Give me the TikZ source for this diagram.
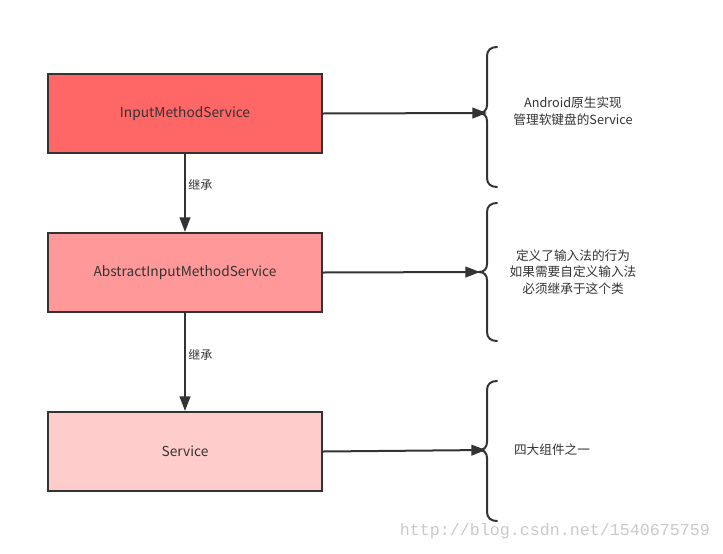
\documentclass[tikz,border=0pt]{standalone}
\usepackage{fontspec}
\setmainfont{Noto Sans CJK SC}
\newfontfamily\wmfont{Liberation Mono}
\usetikzlibrary{arrows.meta}
\definecolor{cA}{HTML}{FF6666}
\definecolor{cB}{HTML}{FF9999}
\definecolor{cC}{HTML}{FFCCCC}
\definecolor{ink}{HTML}{333333}
\definecolor{wm}{HTML}{C9C9C9}
\tikzset{
  box/.style={draw=ink, line width=1.5pt, minimum width=205.5pt, minimum height=59.25pt, inner sep=0pt, font=\fontsize{10.3pt}{12pt}\selectfont, text=ink},
  conn/.style={draw=ink, line width=1.5pt, -{Triangle[length=11pt,width=8pt]}},
  brace/.style={draw=ink, line width=1.5pt, line cap=round},
  lbl/.style={font=\fontsize{9pt}{11pt}\selectfont, text=ink, inner sep=0pt, anchor=west},
  note/.style={font=\fontsize{9.5pt}{12.4pt}\selectfont, text=ink, align=center, inner sep=0pt}
}
\newcommand{\mybrace}[3]{%
  \draw[brace] (497,#1) .. controls (491,#1) and (487,#1+3) .. (487,#1+9) -- (487,#2-8)
    .. controls (487,#2-3) and (484,#2) .. (479,#2)
    .. controls (484,#2) and (487,#2+3) .. (487,#2+8) -- (487,#3-9)
    .. controls (487,#3-3) and (491,#3) .. (497,#3);}
\begin{document}
\begin{tikzpicture}[x=0.75pt,y=-0.75pt]
\useasboundingbox (0,0) rectangle (723,553);
\node[box, fill=cA] (ims) at (185,113.5) {InputMethodService};
\node[box, fill=cB] (aims) at (185,272.5) {AbstractInputMethodService};
\node[box, fill=cC] (svc) at (185,451.5) {Service};

\mybrace{47}{113}{187}
\mybrace{203}{272}{341}
\mybrace{381}{450}{521}
\coordinate (t1) at (487,113);
\coordinate (t2) at (480,272);
\coordinate (t3) at (486,450);

\draw[conn] (ims) -- (aims);
\draw[conn] (aims) -- (svc);
\node[lbl] (l1) at (188,185) {继承};
\node[lbl] (l2) at (188,355) {继承};
\draw[conn] (ims.east) -- (t1);
\draw[conn] (aims.east) -- (t2);
\draw[conn] (svc.east) -- (t3);

\node[note] (n1) at (573,111) {Android原生实现\\管理软键盘的Service};
\node[note] (n2) at (573,272) {定义了输入法的行为\\如果需要自定义输入法\\必须继承于这个类};
\node[note] (n3) at (552,450) {四大组件之一};
\node[text=wm, font=\wmfont\fontsize{12.5pt}{14pt}\selectfont, inner sep=0pt] (wmk) at (555,531) {http://blog.csdn.net/1540675759};
\end{tikzpicture}
\end{document}
